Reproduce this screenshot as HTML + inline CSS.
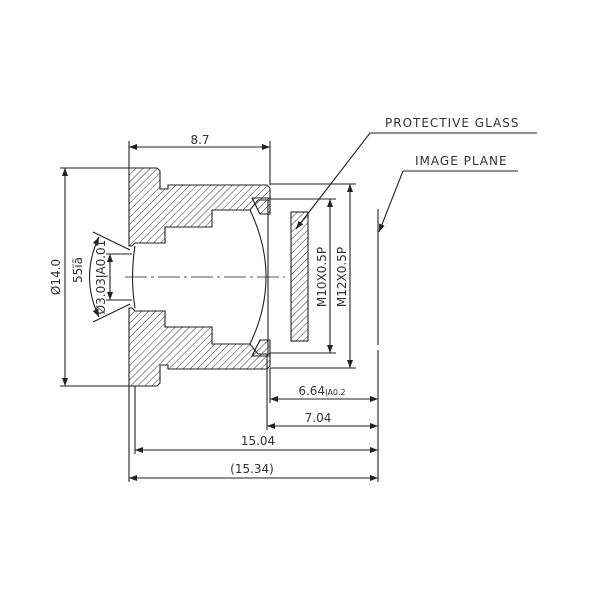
<!DOCTYPE html>
<html><head><meta charset="utf-8"><style>
html,body{margin:0;padding:0;background:#fff}
svg{display:block}
text{font-family:"DejaVu Sans","Liberation Sans",sans-serif;fill:#333;font-size:12px}
</style></head><body>
<svg width="600" height="600" viewBox="0 0 600 600" xmlns="http://www.w3.org/2000/svg">
<defs>
<pattern id="h" width="5" height="5" patternUnits="userSpaceOnUse" patternTransform="rotate(45)">
<line x1="0" y1="0" x2="0" y2="5" stroke="#333" stroke-width="1"/>
</pattern>
<marker id="a" markerWidth="8" markerHeight="6" refX="8" refY="3" orient="auto-start-reverse" markerUnits="userSpaceOnUse">
<path d="M0,0 L8,3 L0,6 z" fill="#222"/>
</marker>
</defs>
<g stroke="#222" stroke-width="1.1" fill="none">
<path fill="url(#h)" d="M129,168 L157,168 L160,171 L160,189 L168,189 L168,185 L267,185 L270,188 L270,200 L258,200 L250,210 L212,210 L212,227 L165,227 L165,243 L135,243 L132,246 L129,246 Z"/>
<path fill="url(#h)" d="M129,386 L157,386 L160,383 L160,365 L168,365 L168,369 L267,369 L270,366 L270,354 L258,354 L250,344 L212,344 L212,327 L165,327 L165,311 L135,311 L132,308 L129,308 Z"/>
<path fill="url(#h)" d="M252,198 L270,198 L270,214 L260,214 Z"/>
<path fill="url(#h)" d="M252,356 L270,356 L270,340 L260,340 Z"/>
<path d="M250,210 Q282,277 250,344"/>
<line x1="268" y1="200" x2="268" y2="354"/>
<path d="M135,246 Q130,277 135,308"/>
<line x1="125" y1="277" x2="285" y2="277" stroke-dasharray="22,4,3,4" stroke-width="0.8"/>
<rect x="291" y="212" width="17" height="129" fill="url(#h)"/>
<line x1="270" y1="184" x2="356" y2="184"/>
<line x1="270" y1="199" x2="336" y2="199"/>
<line x1="270" y1="353" x2="336" y2="353"/>
<line x1="270" y1="368" x2="356" y2="368"/>
<line x1="330" y1="199" x2="330" y2="353" marker-start="url(#a)" marker-end="url(#a)"/>
<line x1="350" y1="184" x2="350" y2="368" marker-start="url(#a)" marker-end="url(#a)"/>
<line x1="378" y1="209" x2="378" y2="345"/>
<line x1="378" y1="350" x2="378" y2="482"/>
<polyline points="537,133 370,133 296,229" marker-end="url(#a)"/>
<polyline points="518,171 403,171 379,232" marker-end="url(#a)"/>
<line x1="129" y1="141" x2="129" y2="168"/>
<line x1="270" y1="141" x2="270" y2="185"/>
<line x1="129" y1="147" x2="270" y2="147" marker-start="url(#a)" marker-end="url(#a)"/>
<line x1="60" y1="168" x2="129" y2="168"/>
<line x1="60" y1="386" x2="129" y2="386"/>
<line x1="65" y1="168" x2="65" y2="386" marker-start="url(#a)" marker-end="url(#a)"/>
<line x1="106" y1="254" x2="132" y2="254"/>
<line x1="106" y1="300" x2="132" y2="300"/>
<line x1="110" y1="254" x2="110" y2="300" marker-start="url(#a)" marker-end="url(#a)"/>
<line x1="130" y1="250" x2="93" y2="232"/>
<line x1="130" y1="304" x2="93" y2="322"/>
<path d="M99,237 Q80,277 99,317" marker-start="url(#a)" marker-end="url(#a)"/>
<line x1="270" y1="368" x2="270" y2="403"/>
<line x1="267" y1="354" x2="267" y2="430"/>
<line x1="135" y1="386" x2="135" y2="454"/>
<line x1="129" y1="386" x2="129" y2="482"/>
<line x1="270" y1="399" x2="378" y2="399" marker-start="url(#a)" marker-end="url(#a)"/>
<line x1="267" y1="426" x2="378" y2="426" marker-start="url(#a)" marker-end="url(#a)"/>
<line x1="135" y1="450" x2="378" y2="450" marker-start="url(#a)" marker-end="url(#a)"/>
<line x1="129" y1="478" x2="378" y2="478" marker-start="url(#a)" marker-end="url(#a)"/>
</g>
<text x="200" y="144" text-anchor="middle">8.7</text>
<text x="385" y="127" font-size="12" letter-spacing="1">PROTECTIVE GLASS</text>
<text x="415" y="165" font-size="12" letter-spacing="1">IMAGE PLANE</text>
<text transform="translate(60,277) rotate(-90)" text-anchor="middle">Ø14.0</text>
<text transform="translate(82,270) rotate(-90)" text-anchor="middle">55ïā</text>
<text transform="translate(105,277) rotate(-90)" text-anchor="middle" font-size="11">Ø3.03ĮA0.01</text>
<text transform="translate(326,277) rotate(-90)" text-anchor="middle" font-size="11">M10X0.5P</text>
<text transform="translate(346,277) rotate(-90)" text-anchor="middle" font-size="11">M12X0.5P</text>
<text x="322" y="395" text-anchor="middle">6.64<tspan font-size="8">ĮA0.2</tspan></text>
<text x="318" y="422" text-anchor="middle">7.04</text>
<text x="258" y="445" text-anchor="middle">15.04</text>
<text x="252" y="473" text-anchor="middle">(15.34)</text>
</svg>
</body></html>
